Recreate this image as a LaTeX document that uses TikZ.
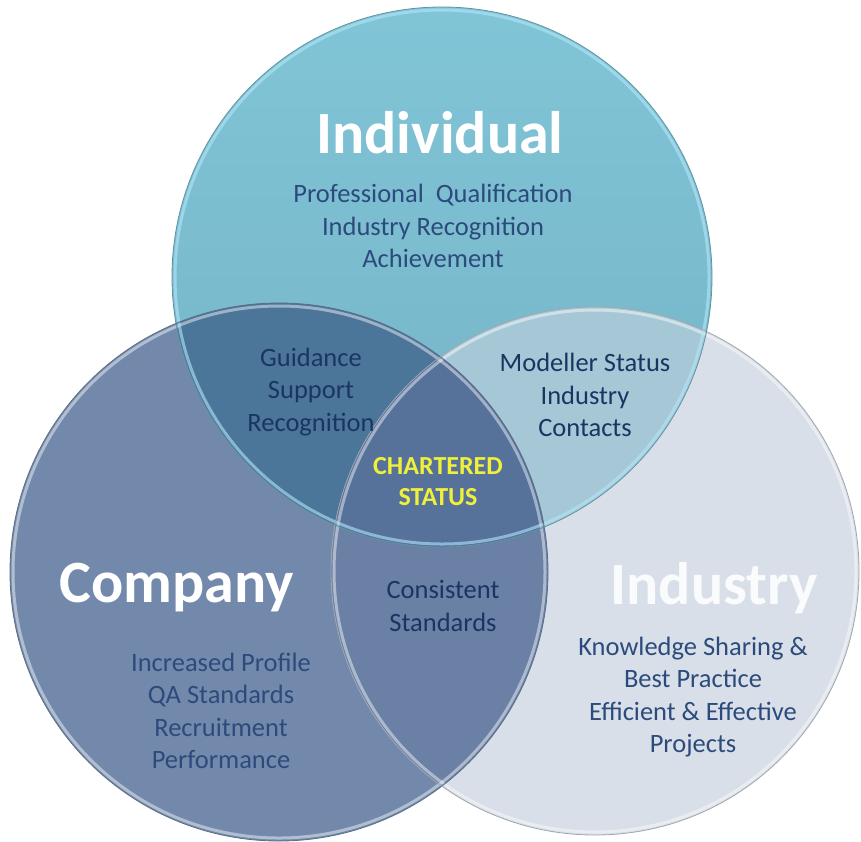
\documentclass[tikz,border=0pt]{standalone}
\usepackage{fontspec}
\setmainfont{Carlito}
\begin{document}
\begin{tikzpicture}[x=1pt,y=-1pt,
  biglabel/.style={font=\fontsize{60}{66}\selectfont\bfseries, text=white, inner sep=0pt},
  listtext/.style={font=\fontsize{26.5}{32.5}\selectfont, align=center, inner sep=0pt},
  rim/.style={draw=white, draw opacity=0.45, line width=3pt},
  edge/.style={draw=#1, line width=0.8pt}]
\definecolor{indcol}{HTML}{80C5D7}
\definecolor{indcolb}{HTML}{76B2C6}
\definecolor{comcol}{HTML}{7289AB}
\definecolor{inducol}{HTML}{D8DFE8}
\definecolor{colIC}{HTML}{4B7599}
\definecolor{colIN}{HTML}{A6C8D6}
\definecolor{colCN}{HTML}{6A80A5}
\definecolor{colICN}{HTML}{56729B}
\definecolor{navy}{HTML}{1B3563}
\definecolor{softnavy}{HTML}{2C4B7C}
\definecolor{gold}{HTML}{F0F03A}
\definecolor{headlight}{HTML}{FAFBFD}

\useasboundingbox (0,0) rectangle (861,841);
\fill[white] (0,0) rectangle (861,841);

% circle centres and radii
\coordinate (cI) at (442,277);
\coordinate (cC) at (279,572);
\coordinate (cN) at (595,571);
\def\rI{270}\def\rC{269}\def\rN{264}

% base discs
\fill[comcol] (cC) circle (\rC);
\fill[inducol] (cN) circle (\rN);
\shade[top color=indcol, bottom color=indcolb] (cI) circle (\rI);

% overlap regions
\begin{scope}\clip (cI) circle (\rI); \fill[colIC] (cC) circle (\rC); \end{scope}
\begin{scope}\clip (cI) circle (\rI); \fill[colIN] (cN) circle (\rN); \end{scope}
\begin{scope}\clip (cC) circle (\rC); \fill[colCN] (cN) circle (\rN); \end{scope}
\begin{scope}\clip (cI) circle (\rI); \clip (cC) circle (\rC); \fill[colICN] (cN) circle (\rN); \end{scope}

% rims and outlines
\draw[rim] (cC) circle (\rC-3);
\draw[rim] (cN) circle (\rN-3);
\draw[rim, draw=cyan!30!white, draw opacity=0.6] (cI) circle (\rI-3);
\draw[edge=comcol!80!black] (cC) circle (\rC);
\draw[edge=inducol!75!black] (cN) circle (\rN);
\draw[edge=indcol!75!black] (cI) circle (\rI);

% headings
\node[biglabel] (hI) at (440,133) {Individual};
\node[biglabel] (hC) at (177,588) {Company};
\node[biglabel, text=headlight] (hN) at (714,588) {Industry};

% benefit lists
\node[listtext, text=softnavy] (lI) at (433,226) {Professional\ \ Qualification\\Industry Recognition\\Achievement};
\node[listtext, text=navy] (lIC) at (311,392) {Guidance\\Support\\Recognition};
\node[listtext, text=navy] (lIN) at (585,395) {Modeller Status\\Industry\\Contacts};
\node[listtext, text=gold, font=\fontsize{26}{31}\selectfont\bfseries] (lICN) at (438,482) {CHARTERED\\STATUS};
\node[listtext, text=navy] (lCN) at (443,606) {Consistent\\Standards};
\node[listtext, text=softnavy] (lC) at (221,711) {Increased Profile\\QA Standards\\Recruitment\\Performance};
\node[listtext, text=softnavy] (lN) at (693,697) {Knowledge Sharing \&\\Best Practice\\Efficient \& Effective\\Projects};
\end{tikzpicture}
\end{document}
